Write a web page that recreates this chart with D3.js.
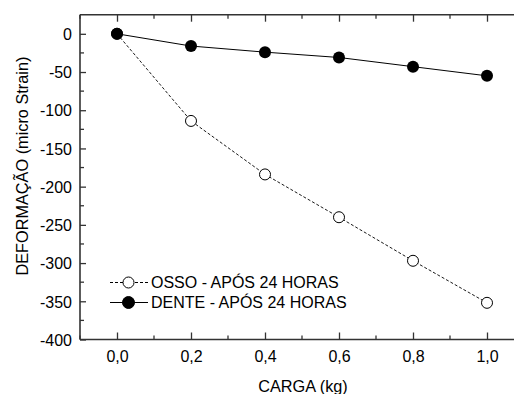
<!DOCTYPE html>
<html><head><meta charset="utf-8">
<script src="https://cdn.jsdelivr.net/npm/d3@7"></script>
<style>body{margin:0;background:#fff}svg{display:block}text{font-family:"Liberation Sans",Arial,sans-serif;fill:#000}</style>
</head><body>
<svg id="c" width="514" height="394"></svg>
<script>
const carga = [0.0, 0.2, 0.4, 0.6, 0.8, 1.0];
const osso = [0, -114, -184, -240, -297, -352];
const dente = [0, -16, -24, -31, -43, -55];
const xTicks = [0.0, 0.2, 0.4, 0.6, 0.8, 1.0];
const yTicks = [0, -50, -100, -150, -200, -250, -300, -350, -400];
const seriesNames = ["OSSO - APÓS 24 HORAS", "DENTE - APÓS 24 HORAS"];

const svg = d3.select("#c");
const x = d3.scaleLinear().domain([-0.1, 1.1]).range([80, 524]);
const y = d3.scaleLinear().domain([-400, 25]).range([339.5, 14.7]);
const fmtX = d => d3.format(".1f")(d).replace(".", ",");
const fmtY = d => String(d);

const axisColor = "#333";
const g = svg.append("g");
g.append("line").attr("x1", 80).attr("x2", 514).attr("y1", y(25)).attr("y2", y(25)).attr("stroke", axisColor).attr("stroke-width", 1.6);
g.append("line").attr("x1", 80).attr("x2", 514).attr("y1", y(-400)).attr("y2", y(-400)).attr("stroke", axisColor).attr("stroke-width", 1.6);
g.append("line").attr("x1", 80).attr("x2", 80).attr("y1", y(25)).attr("y2", y(-400)).attr("stroke", axisColor).attr("stroke-width", 1.6);

const xMinor = d3.range(-0.1, 1.11, 0.1).map(v => +v.toFixed(2)).filter(v => !xTicks.includes(v));
const yMinor = d3.range(-375, 25, 50);

// bottom axis
const xb = d3.axisBottom(x).tickValues(xTicks).tickFormat(fmtX).tickSizeInner(-7).tickSizeOuter(0);
const gb = svg.append("g").attr("transform", `translate(0,${y(-400)})`).call(xb);
gb.select(".domain").remove();
gb.selectAll("text").style("font-size", "16px").attr("y", 17).attr("dy", "0.36em");
gb.selectAll("line").attr("stroke", axisColor).attr("stroke-width", 1.3);
gb.selectAll(".minor").data(xMinor).enter().append("line").attr("x1", d => x(d)).attr("x2", d => x(d)).attr("y1", 0).attr("y2", -4).attr("stroke", axisColor).attr("stroke-width", 1.3);

// top axis ticks
const xt = d3.axisTop(x).tickValues(xTicks).tickFormat("").tickSizeInner(-7).tickSizeOuter(0);
const gt = svg.append("g").attr("transform", `translate(0,${y(25)})`).call(xt);
gt.select(".domain").remove();
gt.selectAll("line").attr("stroke", axisColor).attr("stroke-width", 1.3);
gt.selectAll(".minor").data(xMinor).enter().append("line").attr("x1", d => x(d)).attr("x2", d => x(d)).attr("y1", 0).attr("y2", 4).attr("stroke", axisColor).attr("stroke-width", 1.3);

// left axis
const yl = d3.axisLeft(y).tickValues(yTicks).tickFormat(fmtY).tickSizeInner(-6).tickSizeOuter(0);
const gl = svg.append("g").attr("transform", `translate(80,0)`).call(yl);
gl.select(".domain").remove();
gl.selectAll("text").style("font-size", "16px").attr("x", -8).attr("dy", "0.36em");
gl.selectAll("line").attr("stroke", axisColor).attr("stroke-width", 1.3);
gl.selectAll(".minor").data(yMinor).enter().append("line").attr("x1", 0).attr("x2", 4).attr("y1", d => y(d)).attr("y2", d => y(d)).attr("stroke", axisColor).attr("stroke-width", 1.3);

// axis titles
svg.append("text").attr("x", 303).attr("y", 386).attr("dy", "0.36em").attr("text-anchor", "middle").style("font-size", "16.3px").text("CARGA (kg)");
svg.append("text").attr("transform", `translate(22.5,${(y(25)+y(-400))/2 - 11}) rotate(-90)`).attr("dy", "0.36em").attr("text-anchor", "middle").style("font-size", "16.3px").text("DEFORMAÇÃO (micro Strain)");

// lines
const line = d3.line().x((d, i) => x(carga[i])).y(d => y(d));
svg.append("path").datum(osso).attr("d", line).attr("fill", "none").attr("stroke", "#000").attr("stroke-width", 0.9).attr("stroke-dasharray", "3,2");
svg.append("path").datum(dente).attr("d", line).attr("fill", "none").attr("stroke", "#000").attr("stroke-width", 1);

svg.append("g").selectAll("circle").data(osso).enter().append("circle")
  .attr("cx", (d, i) => x(carga[i])).attr("cy", d => y(d)).attr("r", 5.5)
  .attr("fill", "#fff").attr("stroke", "#000").attr("stroke-width", 1);
svg.append("g").selectAll("circle").data(dente).enter().append("circle")
  .attr("cx", (d, i) => x(carga[i])).attr("cy", d => y(d)).attr("r", 6)
  .attr("fill", "#000");

// legend
const leg = svg.append("g");
const rows = [{name: seriesNames[0], dash: "3,2", fill: "#fff", y: 282.5}, {name: seriesNames[1], dash: null, fill: "#000", y: 302.5}];
rows.forEach(r => {
  leg.append("line").attr("x1", 110).attr("x2", 148).attr("y1", r.y).attr("y2", r.y).attr("stroke", "#000").attr("stroke-width", 1).attr("stroke-dasharray", r.dash);
  leg.append("circle").attr("cx", 128.5).attr("cy", r.y).attr("r", r.fill === "#000" ? 6 : 5.5).attr("fill", r.fill).attr("stroke", "#000").attr("stroke-width", 1);
  leg.append("text").attr("x", 151).attr("y", r.y).attr("dy", "0.36em").style("font-size", "16px").text(r.name);
});
</script>
</body></html>
